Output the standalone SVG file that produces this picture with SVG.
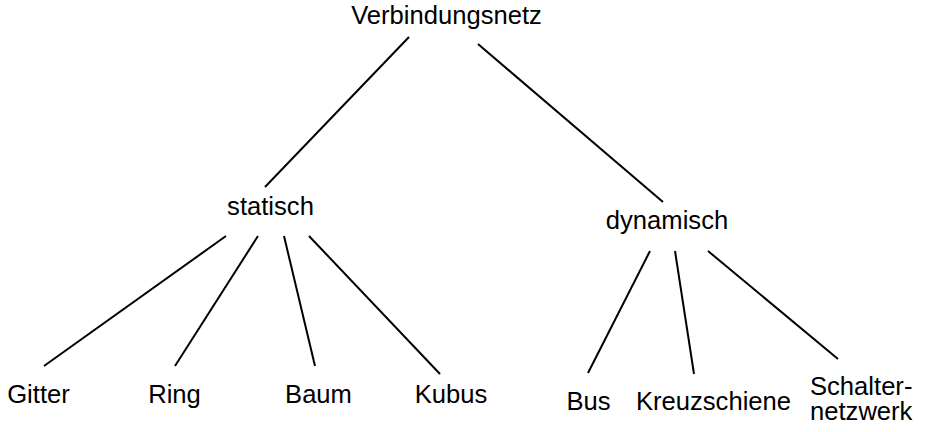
<svg xmlns="http://www.w3.org/2000/svg" width="926" height="432" viewBox="0 0 926 432">
<style>
text{font-family:"Liberation Sans",Arial,sans-serif;font-size:25.6px;fill:#000}
.c{text-anchor:middle}
.e line{stroke:#000;stroke-width:2;fill:none}
</style>
<rect width="926" height="432" fill="#fff"/>
<g id="edges" class="e">
<line x1="409" y1="37" x2="265" y2="187"/>
<line x1="478" y1="44" x2="663" y2="202"/>
<line x1="226" y1="236" x2="44" y2="366"/>
<line x1="258" y1="236" x2="175" y2="366"/>
<line x1="284" y1="236" x2="315" y2="366"/>
<line x1="309" y1="236" x2="440" y2="374"/>
<line x1="650" y1="251" x2="588" y2="373"/>
<line x1="675" y1="251" x2="694" y2="374"/>
<line x1="708" y1="251" x2="838" y2="359"/>
</g>
<g id="n-verbindungsnetz"><text class="c" x="446.5" y="24">Verbindungsnetz</text></g>
<g id="n-statisch"><text class="c" x="270.5" y="215">statisch</text></g>
<g id="n-dynamisch"><text class="c" x="667" y="229">dynamisch</text></g>
<g id="n-gitter"><text class="c" x="38.5" y="403">Gitter</text></g>
<g id="n-ring"><text class="c" x="174.5" y="403">Ring</text></g>
<g id="n-baum"><text class="c" x="318.5" y="403">Baum</text></g>
<g id="n-kubus"><text class="c" x="451" y="403">Kubus</text></g>
<g id="n-bus"><text class="c" x="588.5" y="410">Bus</text></g>
<g id="n-kreuzschiene"><text class="c" x="713.5" y="410">Kreuzschiene</text></g>
<g id="n-schalternetzwerk"><text x="810" y="395">Schalter-</text><text x="810" y="420">netzwerk</text></g>
</svg>
